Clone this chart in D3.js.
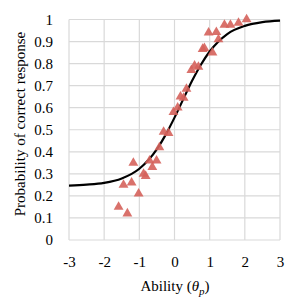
<!DOCTYPE html>
<html>
<head>
<meta charset="utf-8">
<script src="https://cdn.jsdelivr.net/npm/d3@7"></script>
<style>
  body { margin: 0; background: #fff; }
  text { font-family: "Liberation Serif", "DejaVu Serif", serif; }
</style>
</head>
<body>
<script>
let w = 302;
let h = 302;

// observed proportions (ability, proportion correct)
const abilities = [-1.59, -1.34, -1.45, -1.22, -1.02, -1.17, -0.88, -0.82, -0.63, -0.71,
  -0.51, -0.43, -0.31, -0.17, -0.03, 0.09, 0.17, 0.26, 0.34, 0.48,
  0.57, 0.68, 0.80, 0.85, 1.08, 0.97, 1.19, 1.25, 1.42, 1.59, 1.82, 2.05];
const proportions = [0.15, 0.12, 0.25, 0.26, 0.21, 0.35, 0.30, 0.29, 0.33, 0.36,
  0.36, 0.42, 0.49, 0.485, 0.58, 0.60, 0.65, 0.644, 0.685, 0.77,
  0.79, 0.785, 0.866, 0.87, 0.85, 0.94, 0.943, 0.91, 0.975, 0.975, 0.984, 1.0];

// item characteristic curve
const curveX = [-3, -2.5, -2, -1.5, -1, -0.5, -0.25, 0, 0.25, 0.5, 0.75, 1, 1.5, 2, 2.5, 3];
const curveY = [0.247, 0.251, 0.259, 0.279, 0.323, 0.412, 0.478, 0.555, 0.639, 0.722,
  0.795, 0.855, 0.934, 0.971, 0.988, 0.995];

const xTicks = [-3, -2, -1, 0, 1, 2, 3];
const yTicks = [0, 0.1, 0.2, 0.3, 0.4, 0.5, 0.6, 0.7, 0.8, 0.9, 1];

let svg = d3.select("body").append("svg").attr("width", w).attr("height", h);

let x = d3.scaleLinear().domain([-3, 3]).range([69, 280]);
let y = d3.scaleLinear().domain([0, 1]).range([240, 19.5]);

//grid
svg.selectAll(".vgrid")
  .data(xTicks)
  .enter()
  .append("line")
  .attr("x1", function (d) { return x(d); })
  .attr("x2", function (d) { return x(d); })
  .attr("y1", y(0))
  .attr("y2", y(1))
  .attr("stroke", "#d9d9d9")
  .attr("stroke-width", 1.2);

svg.selectAll(".hgrid")
  .data(yTicks)
  .enter()
  .append("line")
  .attr("x1", x(-3))
  .attr("x2", x(3))
  .attr("y1", function (d) { return y(d); })
  .attr("y2", function (d) { return y(d); })
  .attr("stroke", "#d9d9d9")
  .attr("stroke-width", 1.2);

//axes, labels only
let xAxis = svg.append("g")
  .attr("transform", "translate(0," + y(0) + ")")
  .call(d3.axisBottom(x).tickValues(xTicks).tickSize(0).tickPadding(16)
    .tickFormat(function (d) { return d < 0 ? "-" + Math.abs(d) : d; }));
let yAxis = svg.append("g")
  .attr("transform", "translate(" + x(-3) + ",0)")
  .call(d3.axisLeft(y).tickValues(yTicks).tickSize(0).tickPadding(16)
    .tickFormat(function (d) { return d3.format("")(d); }));

[xAxis, yAxis].forEach(function (g) {
  g.select(".domain").remove();
  g.selectAll("text")
    .attr("font-family", "Liberation Serif")
    .attr("font-size", 15)
    .attr("fill", "#000");
});

//curve
let line = d3.line()
  .x(function (d) { return x(d[0]); })
  .y(function (d) { return y(d[1]); })
  .curve(d3.curveMonotoneX);

svg.append("path")
  .datum(d3.zip(curveX, curveY))
  .attr("d", line)
  .attr("fill", "none")
  .attr("stroke", "#000")
  .attr("stroke-width", 2.2);

//triangles
let tri = d3.symbol().type(d3.symbolTriangle).size(42);
svg.selectAll(".pt")
  .data(d3.zip(abilities, proportions))
  .enter()
  .append("path")
  .attr("d", tri)
  .attr("transform", function (d) {
    return "translate(" + x(d[0]) + "," + y(d[1]) + ")";
  })
  .attr("fill", "#d5625b")
  .attr("fill-opacity", 0.9);

//titles
let xt = svg.append("text")
  .attr("x", 175)
  .attr("y", 291)
  .attr("text-anchor", "middle")
  .attr("font-size", 15);
xt.append("tspan").text("Ability (");
xt.append("tspan").attr("font-style", "italic").text("θ");
xt.append("tspan").attr("font-style", "italic").attr("font-size", 11).attr("dy", 4).text("p");
xt.append("tspan").attr("dy", -4).text(")");

svg.append("text")
  .attr("transform", "translate(25,124) rotate(-90)")
  .attr("text-anchor", "middle")
  .attr("font-size", 15)
  .text("Probability of correct response");
</script>
</body>
</html>
